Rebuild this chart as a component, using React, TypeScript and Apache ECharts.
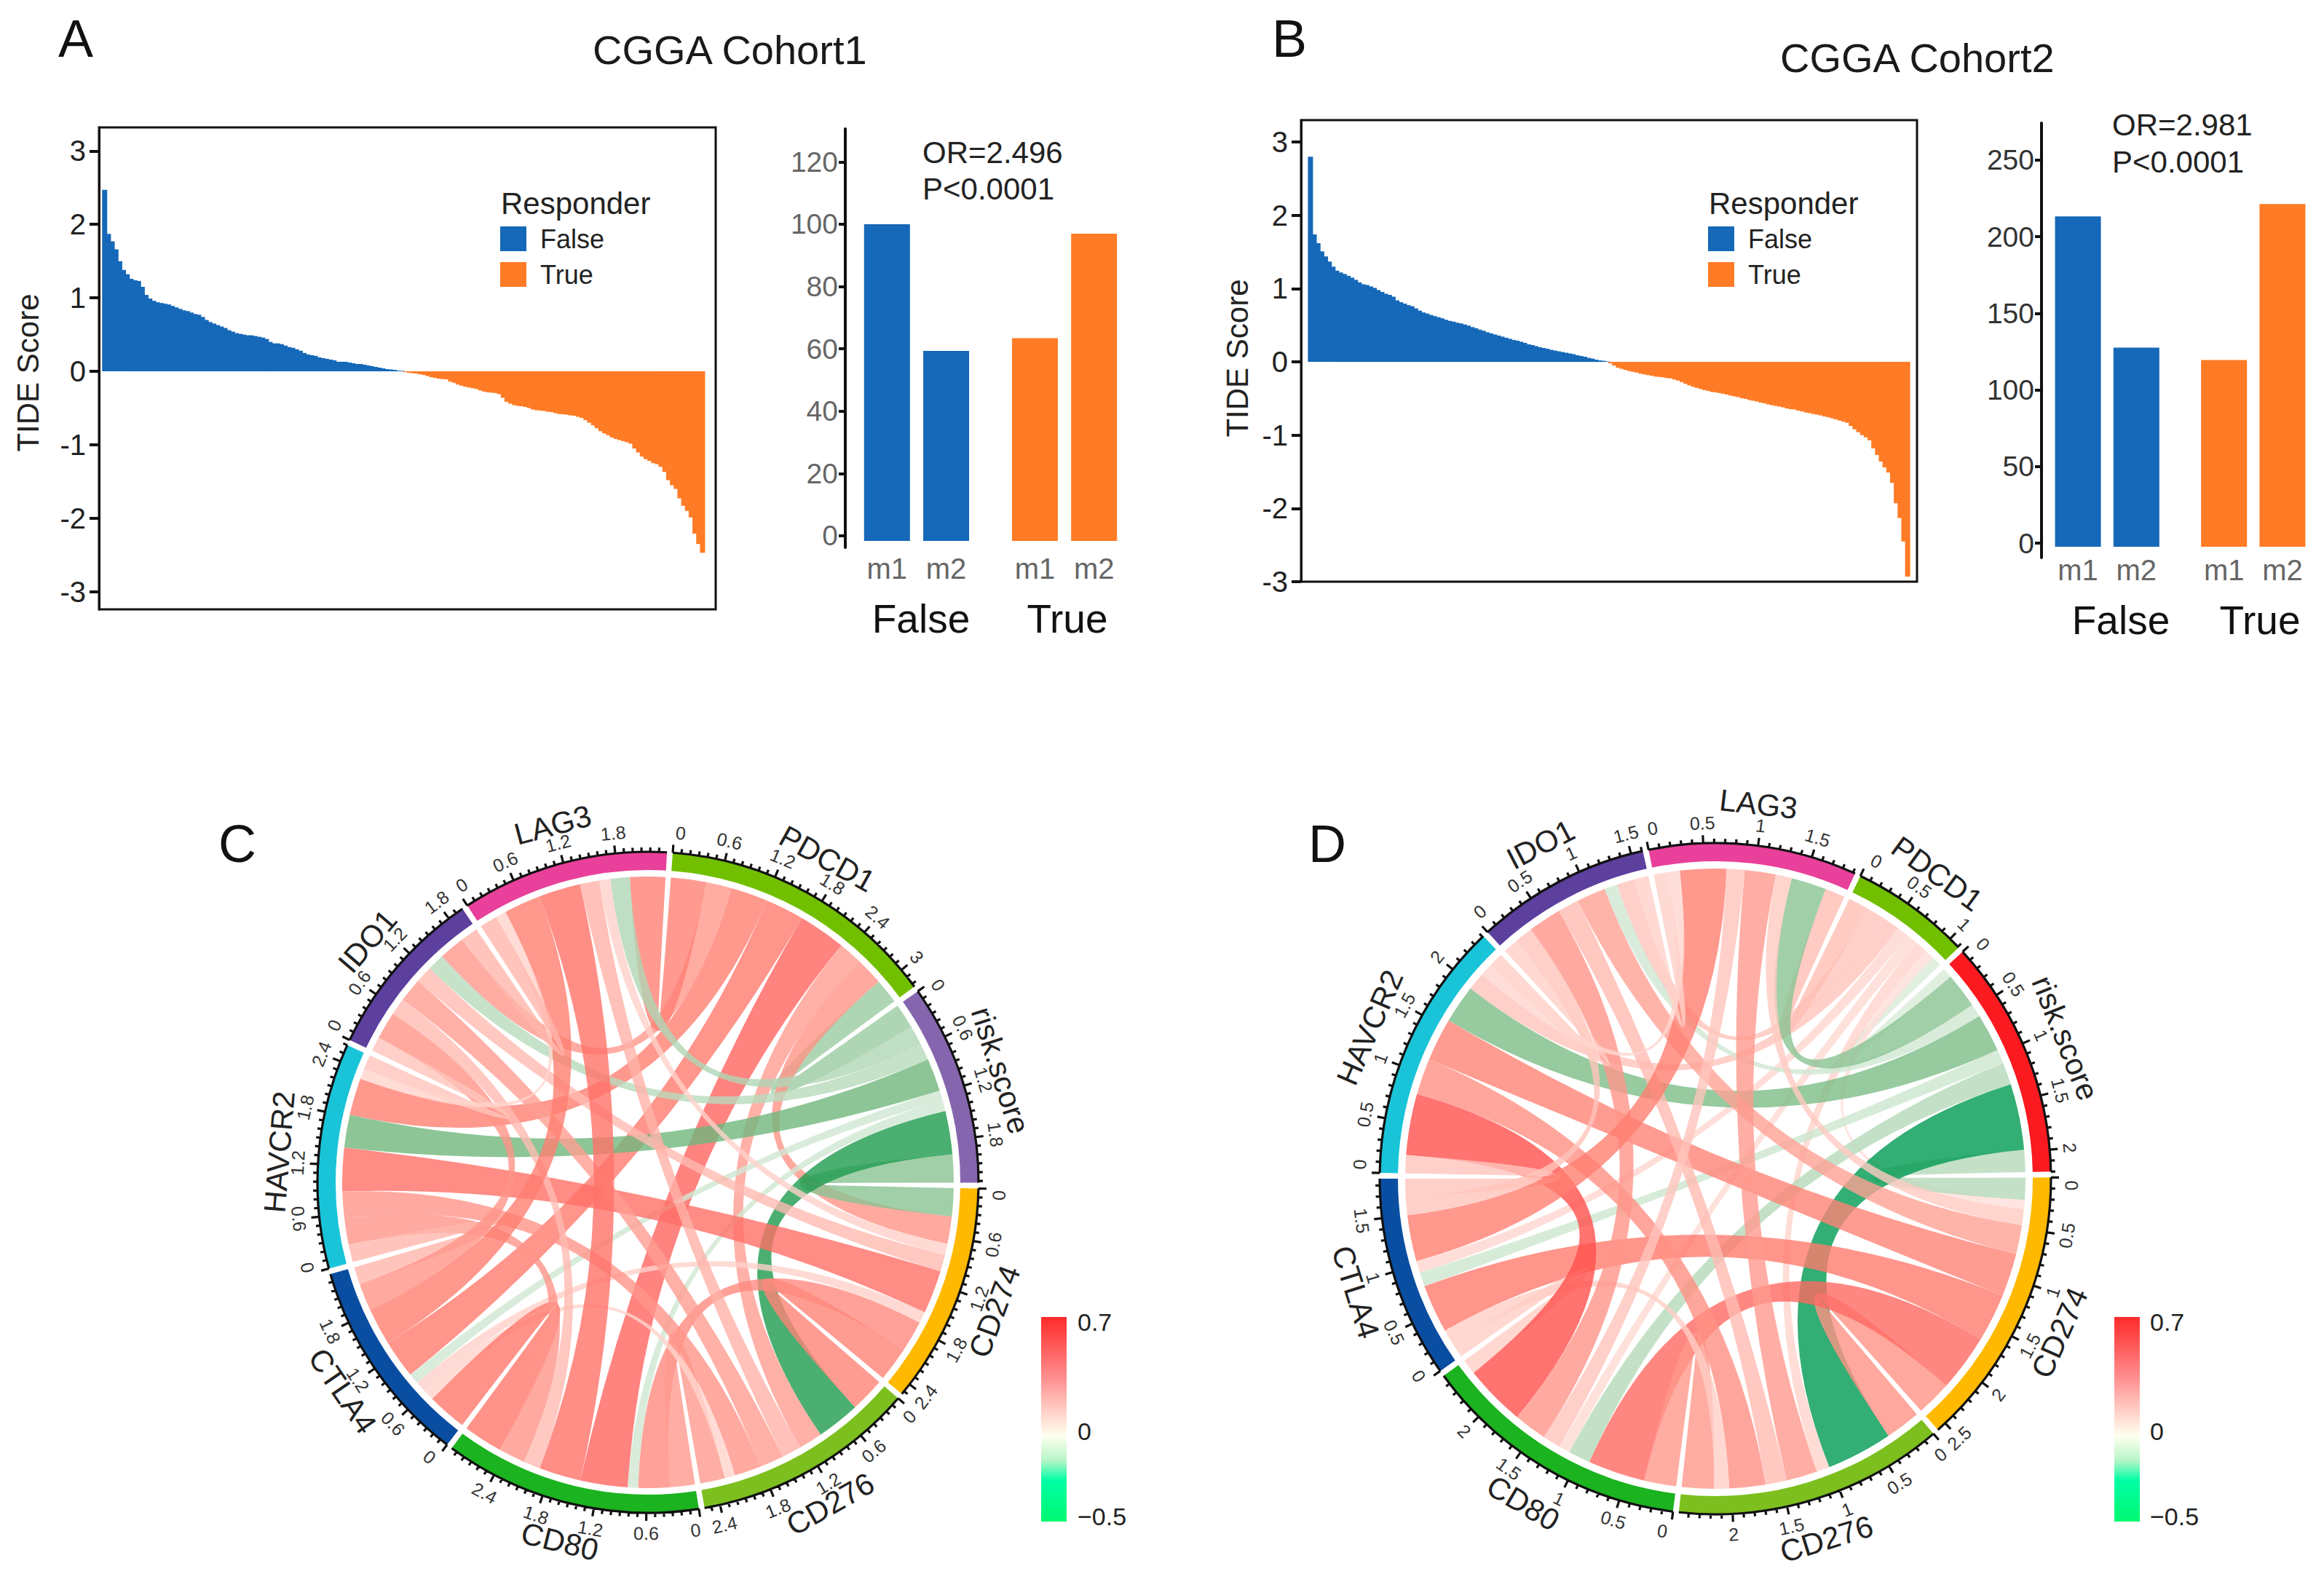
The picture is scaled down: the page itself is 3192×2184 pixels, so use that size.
import React, { useEffect, useRef } from "react";
import * as echarts from "echarts";

const FONT = "Liberation Sans";
const BLUE = "#1668B8";
const ORANGE = "#FF7B25";

// Panel A waterfall
const falseA = [2.47,1.87,1.77,1.66,1.5,1.38,1.32,1.26,1.24,1.23,1.15,1.04,0.99,0.96,0.94,0.93,0.92,0.91,0.89,0.87,0.85,0.83,0.82,0.8,0.78,0.77,0.74,0.7,0.67,0.65,0.63,0.61,0.59,0.56,0.54,0.52,0.51,0.5,0.49,0.49,0.48,0.47,0.46,0.44,0.4,0.38,0.38,0.37,0.35,0.33,0.32,0.3,0.28,0.25,0.23,0.22,0.21,0.19,0.18,0.17,0.16,0.15,0.13,0.13,0.13,0.12,0.11,0.1,0.1,0.09,0.08,0.07,0.06,0.05,0.04,0.03,0.025,0.02,0.01,0.007];
const trueA = [-0.01,-0.02,-0.025,-0.03,-0.04,-0.05,-0.065,-0.08,-0.09,-0.1,-0.105,-0.11,-0.14,-0.155,-0.18,-0.195,-0.21,-0.22,-0.23,-0.24,-0.26,-0.275,-0.285,-0.29,-0.295,-0.31,-0.36,-0.415,-0.44,-0.46,-0.47,-0.475,-0.485,-0.5,-0.52,-0.53,-0.535,-0.54,-0.55,-0.555,-0.57,-0.58,-0.585,-0.59,-0.6,-0.605,-0.62,-0.635,-0.665,-0.7,-0.735,-0.775,-0.815,-0.845,-0.87,-0.9,-0.92,-0.935,-0.95,-0.965,-0.985,-1.05,-1.105,-1.16,-1.195,-1.22,-1.25,-1.265,-1.3,-1.37,-1.48,-1.55,-1.6,-1.73,-1.83,-1.9,-1.99,-2.21,-2.35,-2.47];
// Panel B waterfall
const falseB = [2.8,1.74,1.62,1.51,1.44,1.37,1.3,1.245,1.22,1.2,1.175,1.15,1.12,1.085,1.06,1.05,1.03,1.01,0.98,0.955,0.93,0.915,0.89,0.84,0.815,0.795,0.775,0.76,0.73,0.7,0.675,0.66,0.64,0.625,0.61,0.595,0.575,0.56,0.55,0.535,0.525,0.51,0.495,0.475,0.46,0.44,0.425,0.405,0.39,0.375,0.36,0.345,0.33,0.315,0.3,0.29,0.275,0.26,0.24,0.23,0.215,0.2,0.19,0.18,0.165,0.155,0.145,0.135,0.125,0.115,0.105,0.09,0.08,0.07,0.055,0.045,0.03,0.02,0.015,0.007];
const trueB = [-0.02,-0.05,-0.08,-0.095,-0.11,-0.125,-0.135,-0.145,-0.16,-0.17,-0.18,-0.19,-0.2,-0.205,-0.21,-0.22,-0.225,-0.24,-0.255,-0.275,-0.3,-0.32,-0.34,-0.355,-0.37,-0.385,-0.395,-0.41,-0.415,-0.425,-0.435,-0.445,-0.46,-0.47,-0.48,-0.495,-0.505,-0.52,-0.53,-0.54,-0.555,-0.565,-0.58,-0.59,-0.6,-0.61,-0.62,-0.635,-0.645,-0.65,-0.665,-0.675,-0.69,-0.7,-0.71,-0.72,-0.73,-0.745,-0.755,-0.77,-0.785,-0.8,-0.815,-0.83,-0.875,-0.92,-0.96,-1.0,-1.03,-1.07,-1.18,-1.27,-1.36,-1.44,-1.51,-1.65,-1.93,-2.13,-2.45,-2.93];

const tideTicks = [-3, -2, -1, 0, 1, 2, 3];
const barCatsLabels = ["m1", "", "m2", "", "", "m1", "", "m2"];
const countsA = [100, null, 60, null, null, 64, null, 97];
const countsB = [214, null, 129, null, null, 121, null, 222];
const countTicksA = [0, 20, 40, 60, 80, 100, 120];
const countTicksB = [0, 50, 100, 150, 200, 250];

// Chord panels: genes clockwise, upper triangle of the correlation matrix
const genes = ["PDCD1", "risk.score", "CD274", "CD276", "CD80", "CTLA4", "HAVCR2", "IDO1", "LAG3"];
const corrC = [
  [-0.31, 0.34, 0.3, 0.59, 0.48, 0.46, 0.32, 0.44],
  [-0.35, -0.54, -0.13, -0.13, -0.41, -0.21, -0.24],
  [0.43, 0.39, 0.14, 0.54, 0.21, 0.14],
  [0.31, 0.13, 0.33, 0.3, 0.24],
  [0.49, 0.33, 0.21, 0.52],
  [0.22, 0.34, 0.46],
  [0.18, 0.13],
  [0.22],
];
const corrD = [
  [-0.1, 0.09, 0.13, 0.11, 0.12, 0.18, 0.18, 0.2],
  [-0.22, -0.66, -0.22, -0.14, -0.38, -0.13, -0.35],
  [0.35, 0.57, 0.48, 0.43, 0.29, 0.16],
  [0.32, 0.15, 0.36, 0.21, 0.31],
  [0.15, 0.61, 0.33, 0.18],
  [0.18, 0.18, 0.46],
  [0.15, 0.12],
  [0.14],
];
const sectorColorsC = ["#72BF00", "#8566AE", "#FFB900", "#7CBF1E", "#1BB31F", "#0A4EA2", "#1AC4D8", "#5D3F9E", "#E8409B"];
const sectorColorsD = ["#72BF00", "#FA1A20", "#FFB900", "#7CBF1E", "#1BB31F", "#0A4EA2", "#1AC4D8", "#5D3F9E", "#E8409B"];

// value -> ribbon tone as it looks on white
const toneStops: [number, number[]][] = [
  [-0.66, [44, 174, 116]],
  [-0.54, [75, 175, 114]],
  [-0.41, [141, 197, 150]],
  [-0.31, [175, 214, 180]],
  [-0.13, [217, 236, 219]],
  [0, [255, 250, 248]],
  [0.14, [255, 218, 212]],
  [0.32, [255, 172, 162]],
  [0.47, [255, 150, 140]],
  [0.59, [255, 132, 128]],
  [0.61, [255, 115, 112]],
];
const RIBBON_ALPHA = 0.8;
function ribbonColor(v: number) {
  let rgb = toneStops[toneStops.length - 1][1];
  if (v <= toneStops[0][0]) rgb = toneStops[0][1];
  else
    for (let i = 1; i < toneStops.length; i++) {
      if (v <= toneStops[i][0]) {
        const [a, ca] = toneStops[i - 1];
        const [b, cb] = toneStops[i];
        const t = (v - a) / (b - a);
        rgb = ca.map((c, k) => c + (cb[k] - c) * t);
        break;
      }
    }
  const c = rgb.map((x) => Math.max(0, Math.min(255, Math.round((x - (1 - RIBBON_ALPHA) * 255) / RIBBON_ALPHA))));
  return `rgba(${c[0]},${c[1]},${c[2]},${RIBBON_ALPHA})`;
}

function chordLayout(corr: number[][]) {
  const n = genes.length;
  const m: number[][] = genes.map(() => genes.map(() => 0));
  corr.forEach((row, i) => row.forEach((v, k) => { m[i][i + 1 + k] = v; m[i + 1 + k][i] = v; }));
  const sums = m.map((r) => r.reduce((a, b) => a + Math.abs(b), 0));
  const sum = sums.reduce((a, b) => a + b, 0);
  const gap = sum / 351;
  const total = sum + gap * n;
  const starts: number[] = [];
  const pos: number[][][] = genes.map(() => []);
  let cur = 0;
  for (let i = 0; i < n; i++) {
    starts.push(cur);
    let c = cur;
    for (let k = 1; k < n; k++) {
      const j = (i - k + n) % n;
      const w = Math.abs(m[i][j]);
      pos[i][j] = [c, c + w];
      c += w;
    }
    cur += sums[i] + gap;
  }
  const links: number[][] = [];
  for (let i = 0; i < n; i++) for (let j = i + 1; j < n; j++) links.push([m[i][j], i, j]);
  return { sums, total, starts, pos, links };
}

type ChordCfg = {
  corr: number[][]; colors: string[]; polarIndex: number; cx: number; cy: number;
  rLink: number; rIn: number; rOut: number; tickMinor: number; tickMajor: number;
  rLabel: number; rName: number; majorEvery: number; startDeg: number;
};

function chordParts(cfg: ChordCfg) {
  const L = chordLayout(cfg.corr);
  const polar = { center: [cfg.cx, cfg.cy], radius: 560 };
  const angleAxis = { polarIndex: cfg.polarIndex, type: "value", min: 0, max: L.total, startAngle: 90 - cfg.startDeg, clockwise: true, show: false, splitLine: { show: false } };
  const radiusAxis = { polarIndex: cfg.polarIndex, type: "value", min: 0, max: 560, show: false, splitLine: { show: false } };

  const ribbons = {
    type: "custom", coordinateSystem: "polar", polarIndex: cfg.polarIndex, silent: true, clip: false,
    data: L.links,
    renderItem: (p: any, api: any) => {
      const [v, i, j] = L.links[p.dataIndex];
      const [a1, a2] = L.pos[i][j];
      const [b1, b2] = L.pos[j][i];
      const r = cfg.rLink;
      const P = (a: number) => api.coord([r, a]);
      const O = api.coord([0, 0]);
      const pa1 = P(a1), pa2 = P(a2), pb1 = P(b1), pb2 = P(b2);
      const d = `M${pa1[0]} ${pa1[1]}A${r} ${r} 0 0 1 ${pa2[0]} ${pa2[1]}Q${O[0]} ${O[1]} ${pb1[0]} ${pb1[1]}A${r} ${r} 0 0 1 ${pb2[0]} ${pb2[1]}Q${O[0]} ${O[1]} ${pa1[0]} ${pa1[1]}Z`;
      return { type: "path", shape: { pathData: d }, style: { fill: ribbonColor(v) } };
    },
  };

  const track = {
    type: "custom", coordinateSystem: "polar", polarIndex: cfg.polarIndex, silent: true, clip: false,
    data: genes.map((g, i) => [i, L.sums[i]]),
    renderItem: (p: any, api: any) => {
      const i = p.dataIndex;
      const s = L.starts[i], sum = L.sums[i];
      const O = api.coord([0, 0]);
      const P = (r: number, a: number) => api.coord([r, a]);
      const large = sum / L.total > 0.5 ? 1 : 0;
      const o1 = P(cfg.rOut, s), o2 = P(cfg.rOut, s + sum), i1 = P(cfg.rIn, s), i2 = P(cfg.rIn, s + sum);
      const children: any[] = [];
      children.push({
        type: "path",
        shape: { pathData: `M${o1[0]} ${o1[1]}A${cfg.rOut} ${cfg.rOut} 0 ${large} 1 ${o2[0]} ${o2[1]}L${i2[0]} ${i2[1]}A${cfg.rIn} ${cfg.rIn} 0 ${large} 0 ${i1[0]} ${i1[1]}Z` },
        style: { fill: cfg.colors[i] },
      });
      const rot = (pt: number[]) => {
        const a = Math.atan2(pt[0] - O[0], -(pt[1] - O[1]));
        return Math.cos(a) >= 0 ? -a : Math.PI - a;
      };
      let ticks = `M${o1[0]} ${o1[1]}A${cfg.rOut} ${cfg.rOut} 0 ${large} 1 ${o2[0]} ${o2[1]}`;
      for (let k = 0; k * 0.1 <= sum + 1e-9; k++) {
        const val = k * 0.1;
        const major = k % cfg.majorEvery === 0;
        const a = P(cfg.rOut, s + val);
        const b = P(cfg.rOut + (major ? cfg.tickMajor : cfg.tickMinor), s + val);
        ticks += `M${a[0]} ${a[1]}L${b[0]} ${b[1]}`;
        if (major) {
          // the "0" of each sector sits a touch clockwise of its tick, clear of the previous sector's last label
          const pt = P(cfg.rLabel, s + val + (k === 0 ? 0.07 : 0));
          children.push({
            type: "text", x: pt[0], y: pt[1], rotation: rot(pt),
            style: { text: String(Number(val.toFixed(1))), fontSize: 25, fontFamily: FONT, fill: "#333", align: "center", verticalAlign: "middle" },
          });
        }
      }
      children.push({ type: "path", shape: { pathData: ticks }, style: { fill: "none", stroke: "#111", lineWidth: 3.2 } });
      const n = P(cfg.rName, s + sum / 2);
      children.push({
        type: "text", x: n[0], y: n[1], rotation: rot(n),
        style: { text: genes[i], fontSize: 42, fontFamily: FONT, fill: "#222", align: "center", verticalAlign: "middle" },
      });
      return { type: "group", children };
    },
  };
  return { polar, angleAxis, radiusAxis, series: [ribbons, track] };
}

// baseline-positioned text: y is the baseline of the glyphs
function txt(text: string, x: number, y: number, fontSize: number, fill = "#111") {
  return { type: "text", x, y: y - 0.875 * fontSize, style: { text, fontSize, fontFamily: FONT, fill, align: "left", verticalAlign: "top" } };
}
function mid(text: string, x: number, y: number, fontSize: number, fill = "#111", align = "center") {
  return { type: "text", x, y, style: { text, fontSize, fontFamily: FONT, fill, align, verticalAlign: "middle" } };
}

function colorBar(x: number, w: number, y0: number, y1: number, labelX: number) {
  return [
    {
      type: "rect", shape: { x, y: y0, width: w, height: y1 - y0 },
      style: {
        fill: new echarts.graphic.LinearGradient(0, 0, 0, 1, [
          { offset: 0, color: "#FF2A2A" }, { offset: 0.3, color: "#FF9090" }, { offset: 0.58, color: "#FFFFF0" },
          { offset: 0.7, color: "#B8F5C8" }, { offset: 0.8, color: "#00FFA5" }, { offset: 1, color: "#00F870" },
        ]),
      },
    },
    mid("0.7", labelX, 1816, 34, "#222", "left"),
    mid("0", labelX, 1966, 34, "#222", "left"),
    mid("\u22120.5", labelX, 2083, 34, "#222", "left"),
  ];
}

function buildOption() {
  const padA = [1, 3], padB = [2, 2];
  const wfCats = (f: number[], t: number[], pad: number[]) =>
    Array.from({ length: pad[0] + f.length + t.length + pad[1] }, (_, i) => String(i));
  // bars slightly wider than their band, so neighbours overlap and no white seams show
  const wfSeries = (name: string, vals: number[], color: string, before: number, total: number, axis: number) => ({
    type: "bar", name, xAxisIndex: axis, yAxisIndex: axis === 0 ? 0 : 3,
    barWidth: 7, barGap: "-100%", silent: true, clip: false,
    itemStyle: { color },
    data: Array.from({ length: total }, (_, i) => (i >= before && i < before + vals.length ? vals[i - before] : null)),
  });
  const nA = padA[0] + falseA.length + trueA.length + padA[1];
  const nB = padB[0] + falseB.length + trueB.length + padB[1];

  const grid = [
    { left: 136, top: 175, width: 847, height: 662, show: true, borderColor: "#111", borderWidth: 3, backgroundColor: "transparent" },
    { left: 1198, top: 177, width: 325, height: 575 },
    { left: 1787, top: 165, width: 846, height: 634, show: true, borderColor: "#111", borderWidth: 3, backgroundColor: "transparent" },
    { left: 2834, top: 169, width: 321, height: 597 },
  ];

  const hiddenCat = (gridIndex: number, data: string[]) => ({
    type: "category", gridIndex, data, axisLine: { show: false }, axisTick: { show: false }, axisLabel: { show: false },
  });
  const barCat = (gridIndex: number, margin: number) => ({
    type: "category", gridIndex, data: barCatsLabels, axisLine: { show: false }, axisTick: { show: false },
    axisLabel: { interval: 0, fontFamily: FONT, fontSize: 40, color: "#666", margin },
  });
  const tideAxis = (gridIndex: number, min: number, max: number) => ({
    type: "value", gridIndex, min, max, splitLine: { show: false }, scale: true,
    axisLine: { show: true, onZero: false, lineStyle: { color: "#111", width: 3 } },
    axisTick: { show: true, length: 13, customValues: tideTicks, lineStyle: { color: "#111", width: 4 } },
    axisLabel: { customValues: tideTicks, fontFamily: FONT, fontSize: 40, color: "#222", margin: 18 },
  });
  const countAxis = (gridIndex: number, min: number, max: number, ticks: number[], offset: number, color: string) => ({
    type: "value", gridIndex, min, max, offset, splitLine: { show: false },
    axisLine: { show: true, onZero: false, lineStyle: { color: "#111", width: 4 } },
    axisTick: { show: true, length: 9, customValues: ticks, lineStyle: { color: "#111", width: 4 } },
    axisLabel: { customValues: ticks, fontFamily: FONT, fontSize: 39, color, margin: 10 },
  });
  const hiddenValue = (gridIndex: number, min: number, max: number) => ({ type: "value", gridIndex, min, max, show: false, splitLine: { show: false } });

  const xAxis = [
    hiddenCat(0, wfCats(falseA, trueA, padA)),
    barCat(1, 9),
    hiddenCat(2, wfCats(falseB, trueB, padB)),
    barCat(3, -3),
  ];
  const yAxis: any[] = [
    tideAxis(0, -3.24, 3.32),
    countAxis(1, -3.74, 130.6, countTicksA, 37, "#666"),
    hiddenValue(1, -2.07, 130.1),
    tideAxis(2, -3, 3.3),
    countAxis(3, -9.5, 274.2, countTicksB, 30, "#333"),
    hiddenValue(3, -7.1, 274.5),
  ];

  const barSeries = (counts: (number | null)[], xi: number, yi: number) => ({
    type: "bar", xAxisIndex: xi, yAxisIndex: yi, barWidth: 63, clip: false, silent: true, barGap: "-100%",
    data: counts.map((v, i) => ({ value: v, itemStyle: { color: i < 4 ? BLUE : ORANGE } })),
  });

  const C = chordParts({ corr: corrC, colors: sectorColorsC, polarIndex: 0, cx: 890, cy: 1624, rLink: 420, rIn: 429, rOut: 454, tickMinor: 6, tickMajor: 11, rLabel: 482, rName: 508, majorEvery: 6, startDeg: 4.3 });
  const D = chordParts({ corr: corrD, colors: sectorColorsD, polarIndex: 1, cx: 2356, cy: 1619, rLink: 426, rIn: 436, rOut: 461, tickMinor: 6, tickMajor: 11, rLabel: 489, rName: 518, majorEvery: 5, startDeg: 25.6 });

  const legendOf = (left: number) => ({
    left, top: 305, orient: "vertical", itemWidth: 36, itemHeight: 34, itemGap: 13, icon: "rect", selectedMode: false,
    data: ["False", "True"],
    textStyle: { fontFamily: FONT, fontSize: 36, color: "#222", padding: [0, 0, 0, 14] },
  });

  return {
    animation: false,
    backgroundColor: "#fff",
    grid, xAxis, yAxis,
    polar: [C.polar, D.polar],
    angleAxis: [C.angleAxis, D.angleAxis],
    radiusAxis: [C.radiusAxis, D.radiusAxis],
    legend: [legendOf(682), legendOf(2341)],
    series: [
      wfSeries("False", falseA, BLUE, padA[0], nA, 0),
      wfSeries("True", trueA, ORANGE, padA[0] + falseA.length, nA, 0),
      barSeries(countsA, 1, 2),
      wfSeries("False", falseB, BLUE, padB[0], nB, 2),
      wfSeries("True", trueB, ORANGE, padB[0] + falseB.length, nB, 2),
      barSeries(countsB, 3, 5),
      ...C.series,
      ...D.series,
    ],
    graphic: {
      elements: [
        txt("A", 80, 80, 72),
        txt("B", 1747, 80, 72),
        txt("C", 300, 1186, 72),
        txt("D", 1797, 1186, 72),
        txt("CGGA Cohort1", 814, 89, 56, "#1a1a1a"),
        txt("CGGA Cohort2", 2445, 100, 56, "#1a1a1a"),
        txt("Responder", 688, 295, 42, "#222"),
        txt("Responder", 2347, 295, 42, "#222"),
        txt("OR=2.496", 1267, 225, 42, "#222"),
        txt("P<0.0001", 1267, 275, 42, "#222"),
        txt("OR=2.981", 2901, 187, 42, "#222"),
        txt("P<0.0001", 2901, 238, 42, "#222"),
        mid("False", 1265, 850, 55),
        mid("True", 1466, 850, 55),
        mid("False", 2913, 852, 55),
        mid("True", 3104, 852, 55),
        { type: "text", x: 38, y: 512, rotation: Math.PI / 2, style: { text: "TIDE Score", fontSize: 42, fontFamily: FONT, fill: "#222", align: "center", verticalAlign: "middle" } },
        { type: "text", x: 1699, y: 492, rotation: Math.PI / 2, style: { text: "TIDE Score", fontSize: 42, fontFamily: FONT, fill: "#222", align: "center", verticalAlign: "middle" } },
        ...colorBar(1430, 35, 1809, 2090, 1480),
        ...colorBar(2904, 35, 1809, 2090, 2953),
      ],
    },
  };
}

export default function App() {
  const ref = useRef<HTMLDivElement>(null);
  useEffect(() => {
    document.body.style.margin = "0";
    const chart = echarts.init(ref.current as HTMLDivElement, undefined, { renderer: "svg" });
    chart.setOption(buildOption() as any);
    return () => chart.dispose();
  }, []);
  return <div ref={ref} style={{ width: 3192, height: 2184, position: "absolute", left: 0, top: 0 }} />;
}
